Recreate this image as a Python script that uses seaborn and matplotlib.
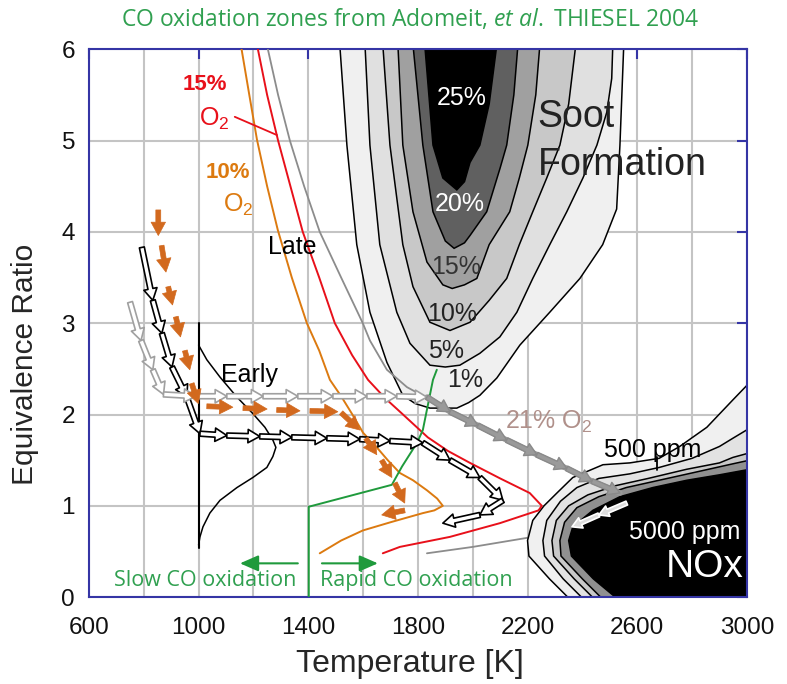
import matplotlib
matplotlib.use("Agg")
import matplotlib.pyplot as plt
import seaborn as sns

# ---------------- data ----------------
# Soot yield contours (percent); each boundary traced top-left -> tip -> top-right
soot_levels = ["1%", "5%", "10%", "15%", "20%", "25%"]
soot_colors = ["#f0f0f0", "#e0e0e0", "#c8c8c8", "#a0a0a0", "#606060", "#000000"]
soot_1_T = [1515, 1541, 1577, 1625, 1687, 1745, 1790, 1844, 1942, 1985, 2026, 2088, 2172, 2281, 2391, 2474, 2525, 2537, 2551]
soot_1_phi = [6.05, 4.95, 3.86, 3.12, 2.57, 2.21, 2.12, 2.07, 2.07, 2.13, 2.21, 2.40, 2.76, 3.12, 3.49, 3.86, 4.25, 4.95, 6.05]
soot_5_T = [1607, 1625, 1661, 1723, 1771, 1844, 1900, 1953, 2026, 2099, 2161, 2219, 2281, 2343, 2402, 2453, 2489, 2507, 2511]
soot_5_phi = [6.05, 4.95, 3.86, 3.12, 2.78, 2.54, 2.52, 2.54, 2.67, 2.85, 3.12, 3.49, 3.86, 4.22, 4.59, 4.95, 5.31, 5.68, 6.05]
soot_10_T = [1672, 1698, 1745, 1782, 1844, 1917, 1990, 2060, 2124, 2170, 2219, 2270, 2318, 2350, 2376]
soot_10_phi = [6.05, 4.95, 3.86, 3.40, 3.01, 2.92, 3.01, 3.25, 3.49, 3.86, 4.22, 4.59, 4.95, 5.40, 6.05]
soot_15_T = [1727, 1745, 1782, 1833, 1891, 1925, 1970, 2015, 2060, 2135, 2170, 2201, 2230, 2245]
soot_15_phi = [6.05, 4.95, 4.22, 3.67, 3.42, 3.38, 3.42, 3.49, 3.86, 4.22, 4.59, 4.95, 5.50, 6.05]
soot_20_T = [1782, 1818, 1855, 1900, 1932, 1970, 1990, 2051, 2100, 2124, 2150, 2165]
soot_20_phi = [6.05, 4.95, 4.22, 3.90, 3.82, 3.88, 3.96, 4.22, 4.70, 4.95, 5.50, 6.05]
soot_25_T = [1825, 1855, 1891, 1942, 1970, 1990, 2026, 2060, 2088]
soot_25_phi = [6.05, 4.95, 4.59, 4.46, 4.55, 4.76, 4.95, 5.40, 6.05]

# NOx contours, traced from the bottom edge up to the right edge
nox_colors = ["#f0f0f0", "#e2e2e2", "#c8c8c8", "#909090", "#000000"]
nox_1_T = [2380, 2280, 2205, 2200, 2219, 2260, 2307, 2365, 2475, 2573, 2680, 2755, 2854, 2949, 3010]
nox_1_phi = [-0.1, 0.20, 0.45, 0.62, 0.84, 1.00, 1.14, 1.31, 1.45, 1.47, 1.52, 1.65, 1.86, 2.16, 2.35]
nox_2_T = [2430, 2330, 2262, 2256, 2270, 2320, 2380, 2460, 2573, 2680, 2800, 2900, 2949, 3010]
nox_2_phi = [-0.1, 0.20, 0.45, 0.62, 0.84, 1.05, 1.20, 1.30, 1.35, 1.42, 1.52, 1.65, 1.74, 1.85]
nox_3_T = [2470, 2370, 2295, 2289, 2305, 2350, 2420, 2520, 2640, 2780, 2900, 2949, 3010]
nox_3_phi = [-0.1, 0.20, 0.45, 0.62, 0.84, 1.00, 1.12, 1.22, 1.30, 1.40, 1.47, 1.53, 1.58]
nox_4_T = [2500, 2400, 2322, 2318, 2335, 2380, 2460, 2560, 2680, 2800, 2949, 3010]
nox_4_phi = [-0.1, 0.20, 0.45, 0.62, 0.82, 0.98, 1.10, 1.20, 1.28, 1.36, 1.46, 1.50]
nox_5_T = [2560, 2440, 2360, 2350, 2365, 2438, 2537, 2657, 2781, 2901, 3010]
nox_5_phi = [-0.1, 0.20, 0.45, 0.62, 0.77, 0.95, 1.10, 1.20, 1.28, 1.34, 1.40]

# Ignition limits for 10%, 15% and 21% O2
o2_10_T = [1154, 1185, 1213, 1250, 1289, 1340, 1395, 1440, 1479, 1520, 1559, 1600, 1650, 1690, 1734, 1782, 1833, 1870, 1891, 1860, 1818, 1700, 1599, 1520, 1442]
o2_10_phi = [6.05, 5.50, 5.01, 4.50, 4.02, 3.50, 3.00, 2.70, 2.38, 2.20, 2.01, 1.80, 1.64, 1.50, 1.36, 1.28, 1.17, 1.08, 1.00, 0.95, 0.92, 0.82, 0.73, 0.62, 0.48]
o2_15_T = [1213, 1250, 1290, 1335, 1380, 1440, 1497, 1560, 1618, 1680, 1742, 1836, 1910, 1990, 2100, 2208, 2252, 2240, 2099, 1917, 1734, 1672]
o2_15_phi = [6.05, 5.50, 5.00, 4.50, 4.00, 3.50, 3.00, 2.65, 2.38, 2.18, 2.01, 1.75, 1.60, 1.47, 1.30, 1.14, 1.00, 0.95, 0.81, 0.66, 0.55, 0.48]
o2_21_T = [1249, 1290, 1333, 1385, 1442, 1520, 1599, 1625, 1687, 1760, 1833, 1917, 2019, 2124, 2234, 2343, 2435, 2537, 2600]
o2_21_phi = [6.05, 5.50, 5.00, 4.50, 4.00, 3.50, 3.00, 2.81, 2.49, 2.30, 2.18, 2.03, 1.88, 1.72, 1.56, 1.41, 1.27, 1.14, 1.00]
o2_21_low_T = [1833, 2000, 2200, 2365, 2550]
o2_21_low_phi = [0.48, 0.55, 0.65, 0.76, 0.85]

# Early ignition limit
early_T = [1000, 1030, 1078, 1140, 1198, 1242, 1271, 1282, 1271, 1249, 1198, 1140, 1078, 1041, 1016, 1005, 1000]
early_phi = [2.76, 2.60, 2.41, 2.19, 2.01, 1.86, 1.72, 1.64, 1.54, 1.42, 1.31, 1.20, 1.06, 0.92, 0.77, 0.66, 0.57]
early_wall_T = [1000, 1000]
early_wall_phi = [0.54, 3.00]

# CO oxidation boundary
co_T = [1402, 1402, 1705, 1742, 1797, 1818, 1855, 1869]
co_phi = [0.00, 0.99, 1.23, 1.43, 1.69, 1.83, 2.38, 2.49]

# Trajectories
blk_T = [793, 833, 866, 903, 957, 1005, 1103, 1223, 1340, 1468, 1588, 1698, 1818, 1917, 2026, 2110, 2026, 1891]
blk_phi = [3.83, 3.25, 2.89, 2.52, 2.19, 1.79, 1.77, 1.76, 1.75, 1.74, 1.73, 1.71, 1.69, 1.50, 1.31, 1.06, 0.90, 0.81]
gry_T = [750, 790, 833, 872, 990, 1103, 1235, 1362, 1490, 1614, 1723, 1833]
gry_phi = [3.23, 2.81, 2.49, 2.22, 2.20, 2.20, 2.20, 2.20, 2.20, 2.20, 2.20, 2.19]
gry_hot_T = [1833, 1917, 2019, 2124, 2234, 2343, 2435, 2537]
gry_hot_phi = [2.19, 2.03, 1.88, 1.72, 1.56, 1.41, 1.27, 1.14]
wht_T = [2562, 2460, 2362]
wht_phi = [1.03, 0.90, 0.77]
org_T0 = [853, 865, 889, 917, 950, 975, 1030, 1162, 1285, 1406, 1520, 1610, 1668, 1716, 1752]
org_phi0 = [4.24, 3.85, 3.40, 3.07, 2.70, 2.34, 2.09, 2.07, 2.05, 2.04, 2.02, 1.74, 1.50, 1.25, 0.95]
org_T1 = [853, 881, 905, 934, 968, 999, 1125, 1250, 1370, 1508, 1588, 1650, 1705, 1752, 1668]
org_phi1 = [3.96, 3.56, 3.20, 2.85, 2.49, 2.12, 2.08, 2.06, 2.04, 2.03, 1.83, 1.56, 1.31, 1.03, 0.90]

# ---------------- style ----------------
sns.set_theme(style="white")
plt.rcParams['font.family'] = ['Liberation Sans', 'DejaVu Sans']
plt.rcParams['mathtext.default'] = 'regular'
plt.rcParams['mathtext.fontset'] = 'custom'
plt.rcParams['mathtext.it'] = 'Open Sans:italic'
plt.rcParams['mathtext.rm'] = 'Open Sans'

NAVY = "#3535a5"
RED = "#e8101a"
ORANGE = "#dc7a10"
ORANGE_ARW = "#d2691e"
GREEN = "#1f9a3c"
GREEN_TXT = "#30a050"

fig = plt.figure(figsize=(7.87, 6.84), dpi=100)
ax = fig.add_axes([0.113, 0.127, 0.836, 0.801])
ax.set_xlim(600, 3000)
ax.set_ylim(0, 6)

ax.set_xticks(range(600, 3001, 400))
ax.set_xticks(range(800, 3000, 400), minor=True)
ax.set_yticks(range(0, 7))
ax.grid(True, which='both', color="#c4c4c4", lw=1.5, zorder=0)
ax.set_axisbelow(True)
for s in ax.spines.values():
    s.set_color(NAVY)
    s.set_linewidth(1.5)
ax.tick_params(which='major', direction='in', length=7, width=1.5, color=NAVY,
               top=True, right=True, labelsize=17.5, labelcolor="#111111")
ax.tick_params(axis='x', which='major', pad=14)
ax.tick_params(axis='y', which='major', pad=10)
ax.tick_params(which='minor', length=0)
ax.set_xlabel("Temperature [K]", fontsize=23)
ax.set_ylabel("Equivalence Ratio", fontsize=21.5)
ax.xaxis.set_label_coords(0.488, -0.095)
ax.yaxis.set_label_coords(-0.076, 0.425)

# soot contours
soot_T = [soot_1_T, soot_5_T, soot_10_T, soot_15_T, soot_20_T, soot_25_T]
soot_phi = [soot_1_phi, soot_5_phi, soot_10_phi, soot_15_phi, soot_20_phi, soot_25_phi]
for T, P, c in zip(soot_T, soot_phi, soot_colors):
    ax.fill(T, P, facecolor=c, edgecolor="black", lw=1.1, zorder=1)

# thin lower branch of the 21% O2 limit sits beneath the NOx map
sns.lineplot(x=o2_21_low_T, y=o2_21_low_phi, sort=False, estimator=None, ax=ax,
             color="#8c8c8c", lw=1.3, zorder=1.5)

# NOx contours
nox_T = [nox_1_T, nox_2_T, nox_3_T, nox_4_T, nox_5_T]
nox_phi = [nox_1_phi, nox_2_phi, nox_3_phi, nox_4_phi, nox_5_phi]
for T, P, c in zip(nox_T, nox_phi, nox_colors):
    ax.fill(T + [3010, 3010], P + [P[-1], -0.1], facecolor=c, edgecolor="black",
            lw=1.1, zorder=2)


def curve(T, P, color, lw, z=3):
    sns.lineplot(x=T, y=P, sort=False, estimator=None, ax=ax, color=color,
                 lw=lw, zorder=z)


curve(o2_10_T, o2_10_phi, ORANGE, 1.4)
curve(o2_15_T, o2_15_phi, RED, 1.4)
curve(o2_21_T[:11], o2_21_phi[:11], "#8c8c8c", 1.3)
curve(early_T, early_phi, "black", 1.1)
curve(early_wall_T, early_wall_phi, "black", 1.5)
curve(co_T, co_phi, GREEN, 1.4)
curve(gry_hot_T, gry_hot_phi, "#9a9a9a", 4, z=4)

ax.plot([1132, 1286], [5.26, 5.06], color=RED, lw=1.3, zorder=3)
ax.plot([2671, 2671], [1.53, 1.39], color="black", lw=1.3, zorder=3)


def arrow(t0, p0, t1, p1, fc, ec, lw, ms, style, z=5):
    ax.annotate("", xy=(t1, p1), xytext=(t0, p0), zorder=z,
                arrowprops=dict(arrowstyle=style, fc=fc, ec=ec, lw=lw,
                                shrinkA=0, shrinkB=0, mutation_scale=ms))


hollow = "simple,head_length=0.7,head_width=0.8,tail_width=0.3"
for i in range(len(blk_T) - 1):
    arrow(blk_T[i], blk_phi[i], blk_T[i + 1], blk_phi[i + 1], "white", "black", 1.2, 12, hollow)
for i in range(len(gry_T) - 1):
    arrow(gry_T[i], gry_phi[i], gry_T[i + 1], gry_phi[i + 1], "white", "#a0a0a0", 1.2, 12, hollow)
for i in range(len(gry_hot_T) - 1):
    arrow(gry_hot_T[i], gry_hot_phi[i], gry_hot_T[i + 1], gry_hot_phi[i + 1],
          "#9a9a9a", "#8a8a8a", 1.0, 12, hollow)
for i in range(len(wht_T) - 1):
    arrow(wht_T[i], wht_phi[i], wht_T[i + 1], wht_phi[i + 1], "#dddddd", "white", 1.2, 10, hollow)
solid = "simple,head_length=0.6,head_width=0.65,tail_width=0.22"
for t0, p0, t1, p1 in zip(org_T0, org_phi0, org_T1, org_phi1):
    arrow(t0, p0, t1, p1, ORANGE_ARW, ORANGE_ARW, 0.5, 16, solid)

# CO oxidation direction arrows
gstyle = dict(arrowstyle="-|>,head_length=0.8,head_width=0.35", color=GREEN, lw=1.5,
              shrinkA=0, shrinkB=0, mutation_scale=14)
ax.annotate("", xy=(1151, 0.37), xytext=(1362, 0.37), arrowprops=gstyle, zorder=5)
ax.annotate("", xy=(1654, 0.37), xytext=(1450, 0.37), arrowprops=gstyle, zorder=5)

# ---------------- text ----------------
def label(t, p, s, color="black", size=18, **kw):
    ax.text(t, p, s, color=color, fontsize=size, ha=kw.pop('ha', 'center'),
            va=kw.pop('va', 'center'), zorder=6, **kw)


label(1023, 5.61, "15%", RED, 16, fontweight='bold')
label(1056, 5.24, "O$_2$", RED, 18)
label(1107, 4.65, "10%", ORANGE, 16, fontweight='bold')
label(1143, 4.30, "O$_2$", ORANGE, 18)
label(1340, 3.83, "Late", "black", 18)
label(1184, 2.43, "Early", "black", 18)
label(1960, 5.47, "25%", "white", 18)
label(1953, 4.31, "20%", "white", 18)
label(1938, 3.62, "15%", "#333333", 18)
label(1924, 3.10, "10%", "#222222", 18)
label(1902, 2.69, "5%", "#222222", 18)
label(1971, 2.38, "1%", "#222222", 18)
label(2237, 5.26, "Soot", "#222222", 27, ha='left')
label(2237, 4.73, "Formation", "#222222", 27, ha='left')
label(2278, 1.92, "21% O$_2$", "#b0908a", 18)
label(2657, 1.61, "500 ppm", "black", 18)
label(2774, 0.71, "5000 ppm", "white", 18)
label(2846, 0.33, "NOx", "white", 28)
label(1023, 0.18, "Slow CO oxidation", GREEN_TXT, 15.5, family=['Open Sans', 'DejaVu Sans'])
label(1796, 0.18, "Rapid CO oxidation", GREEN_TXT, 15.5, family=['Open Sans', 'DejaVu Sans'])

fig.text(0.521, 0.972, "CO oxidation zones from Adomeit, $\\mathit{et\\ al.}$ THIESEL 2004",
         ha='center', va='center', color=GREEN_TXT, fontsize=16.5,
         family=['Open Sans', 'DejaVu Sans'])

fig.savefig("out.png", dpi=100)
